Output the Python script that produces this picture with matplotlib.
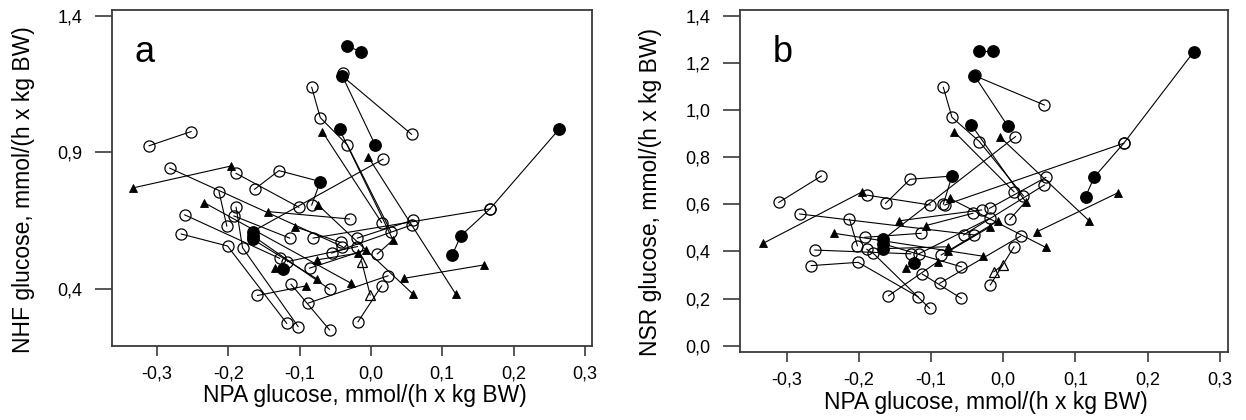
import matplotlib
matplotlib.use('Agg')
import matplotlib.pyplot as plt

plt.rcParams['font.family'] = ['Liberation Sans', 'DejaVu Sans']

# ---- data: each subject is a chain of points (same NPA x in both panels) ----
chain = [1, 1,
         2, 2,
         3, 3,
         4, 4,
         5, 5,
         6, 6, 6, 6,
         7, 7,
         8, 8,
         9, 9,
         10, 10, 10,
         11, 11,
         12, 12, 12,
         13, 13,
         14, 14,
         15, 15,
         16, 16, 16,
         17,
         18, 18,
         19, 19, 19, 19,
         20, 20,
         21, 21, 21,
         22, 22,
         23, 23, 23, 23,
         24, 24,
         25, 25,
         26, 26,
         27, 27,
         28, 28,
         29, 29,
         30, 30,
         31, 31,
         32, 32,
         33, 33,
         34, 34,
         35, 35,
         36, 36,
         37, 37,
         38, 38]

npa = [-0.311, -0.252,
       -0.333, -0.196,
       -0.282, -0.040,
       -0.189, -0.101,
       -0.213, -0.202,
       -0.163, -0.129, -0.071, -0.083,
       -0.074, 0.059,
       0.017, -0.166,
       -0.166, -0.076,
       -0.266, -0.201, -0.118,
       -0.261, -0.128,
       -0.189, -0.180, -0.102,
       -0.234, -0.028,
       -0.192, -0.114,
       -0.144, -0.030,
       0.057, -0.040, 0.006,
       -0.039,
       -0.033, -0.014,
       -0.083, -0.071, -0.033, 0.028,
       -0.068, 0.015,
       -0.044, 0.031, 0.009,
       -0.004, 0.119,
       0.264, 0.167, 0.126, 0.114,
       0.167, -0.081,
       0.059, -0.019,
       0.057, -0.055,
       0.159, 0.047,
       0.024, -0.088,
       0.015, -0.018,
       -0.013, -0.001,
       -0.076, -0.018,
       -0.159, -0.091,
       -0.135, -0.123,
       -0.112, -0.058,
       -0.117, -0.019,
       -0.107, -0.042,
       -0.166, -0.058,
       -0.086, -0.007]

nhf = [0.924, 0.976,
       0.770, 0.850,
       0.842, 0.555,
       0.823, 0.699,
       0.756, 0.630,
       0.765, 0.833, 0.793, 0.707,
       0.707, 0.381,
       0.875, 0.610,
       0.582, 0.437,
       0.601, 0.557, 0.274,
       0.671, 0.512,
       0.699, 0.551, 0.262,
       0.716, 0.421,
       0.667, 0.586,
       0.683, 0.656,
       0.966, 1.179, 0.927,
       1.192,
       1.289, 1.268,
       1.138, 1.027, 0.927, 0.610,
       0.975, 0.643,
       0.984, 0.579, 0.528,
       0.884, 0.381,
       0.985, 0.693, 0.594, 0.524,
       0.693, 0.586,
       0.652, 0.586,
       0.634, 0.531,
       0.488, 0.439,
       0.448, 0.348,
       0.411, 0.280,
       0.500, 0.378,
       0.506, 0.531,
       0.376, 0.411,
       0.476, 0.472,
       0.417, 0.250,
       0.500, 0.555,
       0.628, 0.570,
       0.595, 0.399,
       0.476, 0.543]

nsr = [0.608, 0.720,
       0.434, 0.652,
       0.559, 0.470,
       0.639, 0.597,
       0.537, 0.424,
       0.604, 0.706, 0.720, 0.601,
       0.625, 0.417,
       0.887, 0.452,
       0.412, 0.420,
       0.340, 0.354, 0.208,
       0.406, 0.390,
       0.409, 0.392, 0.159,
       0.477, 0.380,
       0.460, 0.477,
       0.530, 0.576,
       1.021, 1.146, 0.933,
       1.150,
       1.252, 1.252,
       1.096, 0.969, 0.866, 0.636,
       0.908, 0.653,
       0.936, 0.611, 0.536,
       0.884, 0.530,
       1.247, 0.859, 0.715, 0.632,
       0.859, 0.597,
       0.714, 0.583,
       0.682, 0.470,
       0.649, 0.484,
       0.465, 0.265,
       0.420, 0.258,
       0.314, 0.342,
       0.400, 0.505,
       0.212, 0.356,
       0.328, 0.350,
       0.304, 0.201,
       0.390, 0.540,
       0.510, 0.562,
       0.432, 0.335,
       0.385, 0.530]

# o = open circle, f = filled circle, t = filled triangle, v = open triangle
kind = ['o', 'o',
        't', 't',
        'o', 'o',
        'o', 'o',
        'o', 'o',
        'o', 'o', 'f', 'o',
        't', 't',
        'o', 'f',
        'f', 't',
        'o', 'o', 'o',
        'o', 'o',
        'o', 'o', 'o',
        't', 't',
        'o', 'o',
        't', 'o',
        'o', 'f', 'f',
        'o',
        'f', 'f',
        'o', 'o', 'o', 'o',
        't', 'o',
        'f', 't', 'o',
        't', 't',
        'f', 'o', 'f', 'f',
        'o', 'o',
        'o', 'o',
        'o', 'o',
        't', 't',
        'o', 'o',
        'o', 'o',
        'v', 'v',
        't', 't',
        'o', 't',
        't', 'f',
        'o', 'o',
        'o', 'o',
        't', 'o',
        'f', 'o',
        'o', 't']

x_ticks = [-0.3, -0.2, -0.1, 0.0, 0.1, 0.2, 0.3]
ya_ticks = [0.4, 0.9, 1.4]
yb_ticks = [0.0, 0.2, 0.4, 0.6, 0.8, 1.0, 1.2, 1.4]

STY = {
    'o': dict(marker='o', ms=8.0, mfc='none', mec='black', mew=0.9),
    'f': dict(marker='o', ms=8.3, mfc='black', mec='black', mew=0.9),
    't': dict(marker='^', ms=5.2, mfc='black', mec='black', mew=0.6),
    'v': dict(marker='^', ms=6.8, mfc='none', mec='black', mew=0.9),
}


def fmt(v):
    s = f"{v:.1f}".replace('.', ',')
    return '0,0' if s == '-0,0' else s


def draw(ax, ys):
    ids = []
    for c in chain:
        if c not in ids:
            ids.append(c)
    for c in ids:
        idx = [i for i, cc in enumerate(chain) if cc == c]
        xs = [npa[i] for i in idx]
        yv = [ys[i] for i in idx]
        if len(idx) > 1:
            ax.plot(xs, yv, color='black', lw=0.8, zorder=2)
    for i in range(len(npa)):
        ax.plot([npa[i]], [ys[i]], linestyle='none', zorder=3, **STY[kind[i]])


fig = plt.figure(figsize=(12.46, 4.2), dpi=100)

ax_a = fig.add_axes([112 / 1246, 1 - 346 / 420, 480 / 1246, 336 / 420])
ax_b = fig.add_axes([740 / 1246, 1 - 351.7 / 420, 487.7 / 1246, 341.7 / 420])

draw(ax_a, nhf)
draw(ax_b, nsr)

ax_a.set_xlim(-0.363, 0.310)
ax_a.set_ylim(0.191, 1.421)
ax_b.set_xlim(-0.3647, 0.311)
ax_b.set_ylim(-0.025, 1.424)

for ax, yt, ylab in [(ax_a, ya_ticks, 'NHF glucose, mmol/(h x kg BW)'),
                     (ax_b, yb_ticks, 'NSR glucose, mmol/(h x kg BW)')]:
    ax.set_xticks(x_ticks)
    ax.set_xticklabels([fmt(v) for v in x_ticks])
    ax.set_yticks(yt)
    ax.set_yticklabels([fmt(v) for v in yt])
    for sp in ax.spines.values():
        sp.set_color('#3a3a3a')
        sp.set_linewidth(1.3)
    ax.tick_params(axis='x', direction='out', length=7.5, width=1.1, color='#2a2a2a',
                   labelsize=13, pad=6.5)
    ax.tick_params(axis='y', direction='out', length=12, width=1.1, color='#2a2a2a',
                   labelsize=13, pad=9.5)
    ax.set_xlabel('NPA glucose, mmol/(h x kg BW)', fontsize=16.5)
    ax.set_ylabel(ylab, fontsize=16.5)

ax_a.xaxis.set_label_coords(0.527, -0.113)
ax_a.yaxis.set_label_coords(-0.160, 0.464)
ax_b.xaxis.set_label_coords(0.504, -0.115)
ax_b.yaxis.set_label_coords(-0.160, 0.466)

ax_a.text(0.046, 0.845, 'a', transform=ax_a.transAxes, fontsize=26, ha='left', va='baseline')
ax_b.text(0.067, 0.849, 'b', transform=ax_b.transAxes, fontsize=26, ha='left', va='baseline')

fig.savefig('out.png', dpi=100)
